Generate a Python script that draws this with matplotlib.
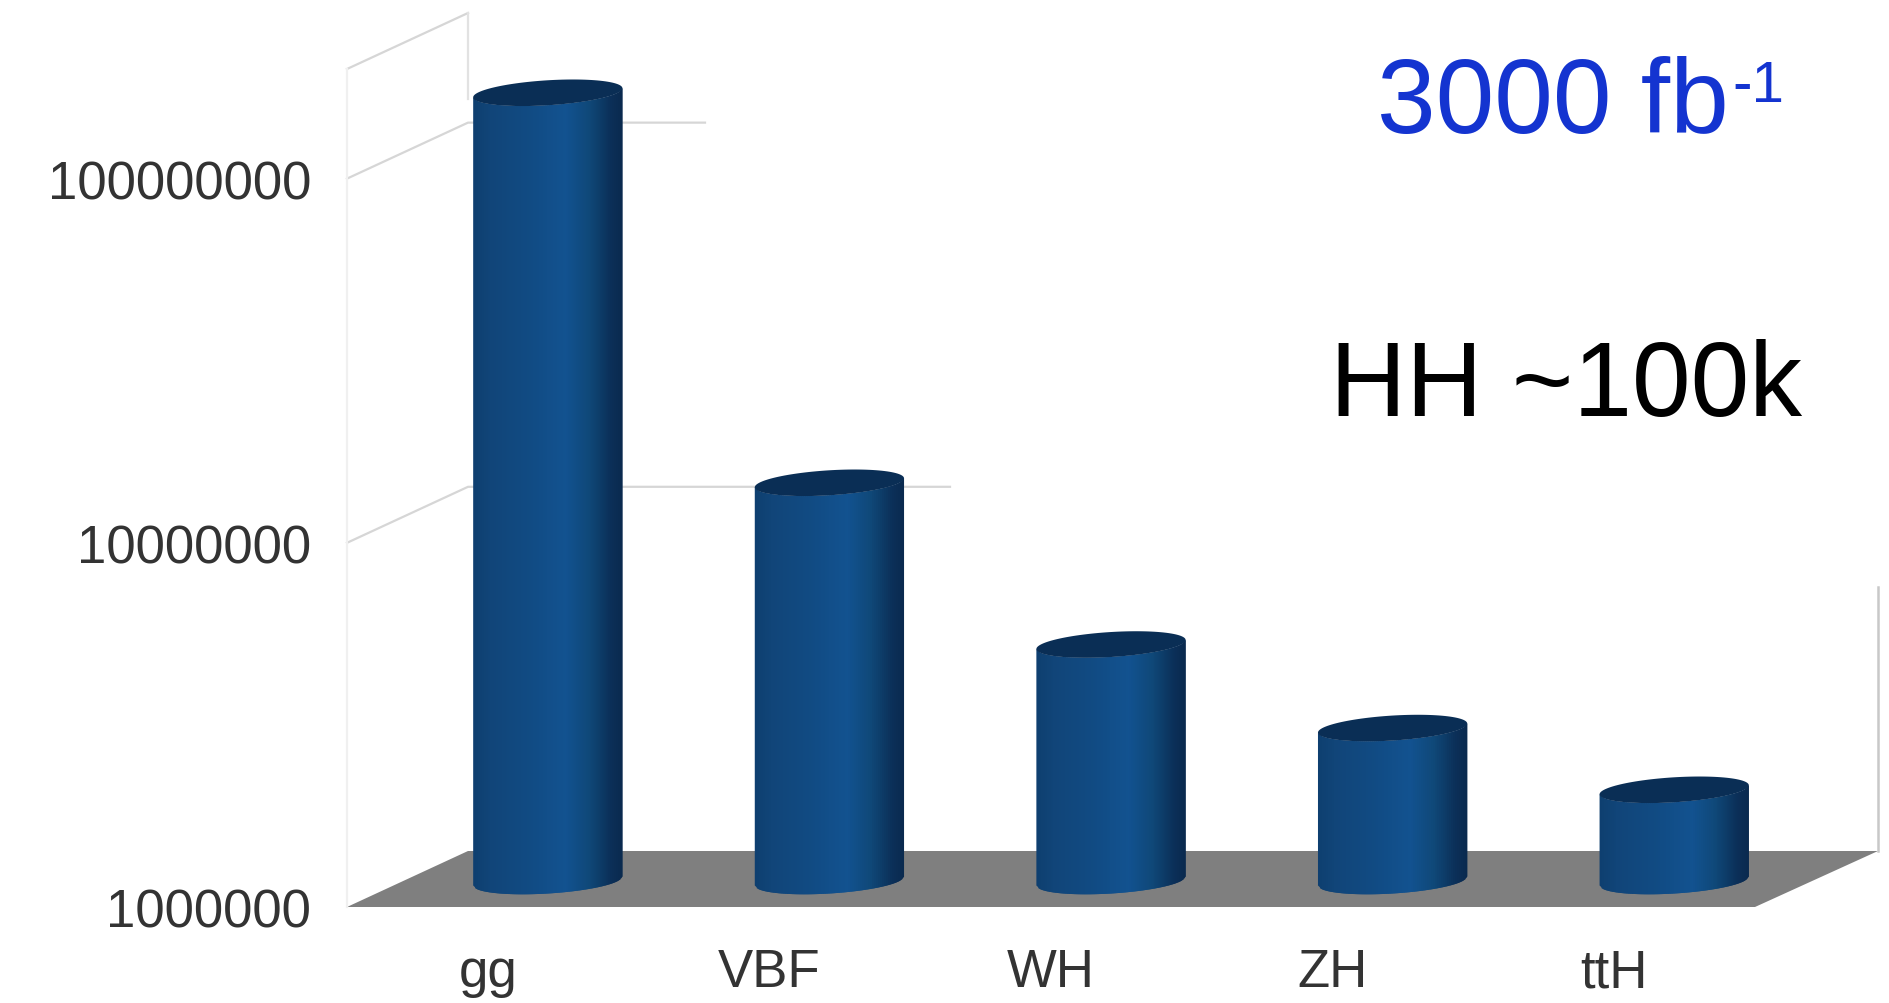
import numpy as np
import matplotlib
matplotlib.use("Agg")
import matplotlib.pyplot as plt
from matplotlib.collections import PolyCollection
from matplotlib.colors import LinearSegmentedColormap
from matplotlib.patches import Polygon
from matplotlib.ticker import FixedLocator, FuncFormatter, NullLocator
from matplotlib.transforms import Affine2D

categories = ["gg", "VBF", "WH", "ZH", "ttH"]
event_counts = [1.46e8, 1.24e7, 4.46e6, 2.63e6, 1.78e6]
decade_ticks = [1e6, 1e7, 1e8]
y_limits = (1e6, 2e8)

W, H = 1890, 1004
plt.rcParams["font.family"] = ["Liberation Sans", "DejaVu Sans"]

fig = plt.figure(figsize=(W / 100, H / 100), dpi=100, facecolor="white")
# Front plane of the pseudo-3D box, in pixels from the top-left corner
LEFT, RIGHT, TOP, BOTTOM = 347, 1755, 70, 908
ax = fig.add_axes([LEFT / W, 1 - BOTTOM / H, (RIGHT - LEFT) / W, (BOTTOM - TOP) / H])
ax.patch.set_visible(False)
ax.set_yscale("log")
ax.set_xlim(-0.5, len(categories) - 0.5)
ax.set_ylim(*y_limits)
for spine in ax.spines.values():
    spine.set_visible(False)

ax.yaxis.set_major_locator(FixedLocator(decade_ticks))
ax.yaxis.set_minor_locator(NullLocator())
ax.yaxis.set_major_formatter(FuncFormatter(lambda v, _: f"{int(v)}"))
ax.tick_params(axis="y", length=0, pad=26, labelsize=38, labelcolor="#333333")
ax.set_xticks(range(len(categories)), categories)
ax.tick_params(axis="x", length=0, pad=57, labelsize=38, labelcolor="#333333")
for label in ax.get_xticklabels():
    label.set_verticalalignment("baseline")

# Pixel coordinates with the origin at the top left
px = Affine2D().scale(1, -1).translate(0, H)
to_px = px.inverted()


def data_to_px(x, y):
    return to_px.transform(ax.transData.transform((x, y)))


DEPTH_X, DEPTH_Y = 121, -56
MID_X, MID_Y = 60, -26

# Floor of the box
ax.add_patch(Polygon([(LEFT, BOTTOM), (RIGHT, BOTTOM),
                      (RIGHT + DEPTH_X + 2, BOTTOM + DEPTH_Y),
                      (LEFT + DEPTH_X, BOTTOM + DEPTH_Y)],
                     closed=True, facecolor="#7f7f7f", edgecolor="none",
                     transform=px, clip_on=False, zorder=1))

# Side walls and the short gridlines on the back plane
GRID = "#d6d6d6"
right_end = {1e8: 705, 1e7: 950}
for value in list(right_end) + [y_limits[1]]:
    _, y = data_to_px(0, value)
    xs = [LEFT, LEFT + DEPTH_X]
    ys = [y, y + DEPTH_Y]
    if value in right_end:
        xs.append(right_end[value])
        ys.append(y + DEPTH_Y)
    ax.plot(xs, ys, color=GRID, lw=1.6, transform=px, clip_on=False, zorder=2)
_, y_top = data_to_px(0, y_limits[1])
ax.plot([LEFT, LEFT], [y_top, BOTTOM], color="#f0f0f0", lw=1.6, transform=px,
        clip_on=False, zorder=2)
ax.plot([LEFT + DEPTH_X] * 2, [y_top + DEPTH_Y, 100], color="#e2e2e2", lw=1.6,
        transform=px, clip_on=False, zorder=2)
ax.plot([RIGHT + DEPTH_X + 2] * 2, [588, BOTTOM + DEPTH_Y], color="#c8c8c8", lw=1.8,
        transform=px, clip_on=False, zorder=2)

# Sheared cylinders shaded with a horizontal colour ramp
shade = LinearSegmentedColormap.from_list("cylinder", [
    (0.00, "#0e3f70"), (0.12, "#114579"), (0.38, "#114b83"),
    (0.62, "#125290"), (0.78, "#0f4878"), (0.92, "#0b3059"), (1.00, "#0a2a4f"),
])
BAR_WIDTH = 0.53
HALF_W = BAR_WIDTH / 2 * (RIGHT - LEFT) / len(categories)
SHEAR, MINOR = 4.5, 12.5
CAP = "#0a2e55"
n_strips = 75

for i, value in enumerate(event_counts):
    cx = data_to_px(i, 1e6)[0] + MID_X
    y_base = data_to_px(i, 1e6)[1] + MID_Y
    y_top_c = data_to_px(i, value)[1] + MID_Y

    edges = np.linspace(-1, 1, n_strips + 1)
    slant = -SHEAR * edges  # the rim rises toward the right
    front = MINOR * np.sqrt(1 - edges ** 2)
    top_curve = y_top_c + slant + front
    base_curve = y_base + slant + front
    xs = cx + HALF_W * edges
    strips, colors = [], []
    for k in range(n_strips):
        # each strip runs under its neighbour so no seams show between them
        a, b = k, min(k + 2, n_strips)
        strips.append([(xs[a], top_curve[a]), (xs[b], top_curve[b]),
                       (xs[b], base_curve[b]), (xs[a], base_curve[a])])
        colors.append(shade((k + 0.5) / n_strips))
    body = PolyCollection(strips, facecolors=colors, edgecolors="none", linewidths=0,
                          transform=px, clip_on=False, zorder=3)
    ax.add_collection(body, autolim=False)

    t = np.linspace(0, 2 * np.pi, 120)
    cap_x = cx + HALF_W * np.cos(t)
    cap_y = y_top_c - SHEAR * np.cos(t) + MINOR * np.sin(t)
    ax.add_patch(Polygon(np.column_stack([cap_x, cap_y]), closed=True, facecolor=CAP,
                         edgecolor="none", transform=px, clip_on=False, zorder=4))

# Annotations at the upper right
ax.text(1377, 133, "3000 fb", color="#1434d0", fontsize=76, ha="left", va="baseline",
        transform=px, clip_on=False, zorder=5)
ax.text(1732, 102, "-1", color="#1434d0", fontsize=42, ha="left", va="baseline",
        transform=px, clip_on=False, zorder=5)
ax.text(1330, 416, "HH ~100k", color="black", fontsize=76, ha="left", va="baseline",
        transform=px, clip_on=False, zorder=5)

fig.savefig("out.png", dpi=100, facecolor="white")
